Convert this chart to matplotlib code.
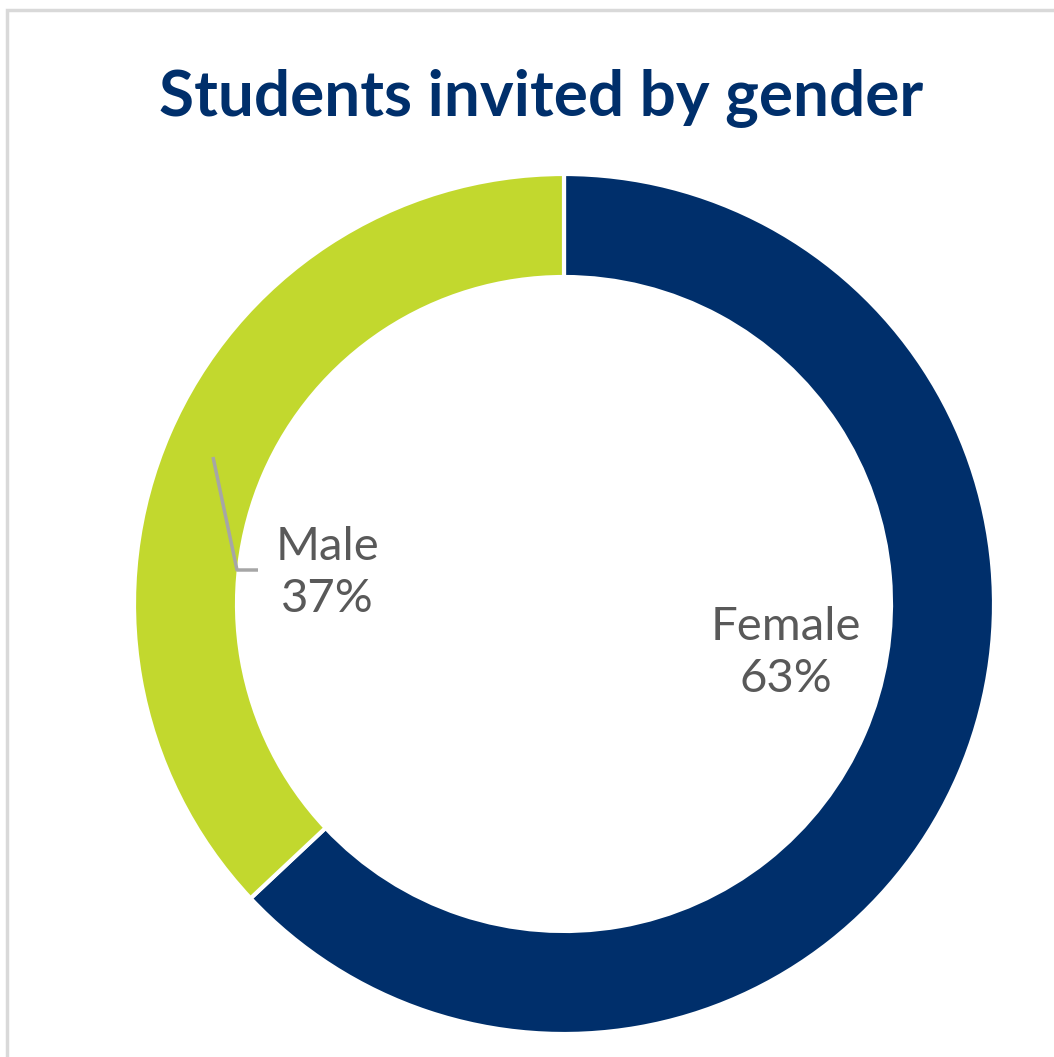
import matplotlib
matplotlib.use("Agg")
import matplotlib.pyplot as plt
from matplotlib.patches import Rectangle

# data
labels = ["Female", "Male"]
shares = [63, 37]
colors = ["#002F6B", "#C2D82E"]
title = "Students invited by gender"

W, H = 1054, 1057
fig = plt.figure(figsize=(W / 100, H / 100), dpi=100)
ax = fig.add_axes([0, 0, 1, 1])
ax.set_xlim(0, W)
ax.set_ylim(0, H)
ax.set_aspect("equal")
ax.axis("off")

# light frame around the chart area
ax.add_patch(Rectangle((7, -20), W + 40, H - 10 + 20, fill=False,
                       edgecolor="#D9D9D9", linewidth=2.5))

cx, cy, r = 564, H - 604, 430
ax.pie(shares, colors=colors, startangle=90, counterclock=False,
       center=(cx, cy), radius=r,
       wedgeprops=dict(width=103, edgecolor="white", linewidth=3))
ax.set_xlim(0, W)
ax.set_ylim(0, H)

ax.text(541, H - 98, title, ha="center", va="center", fontsize=46,
        fontweight="bold", color="#002F6B", family="Lato")

lab_col = "#595959"
ax.text(327, H - 573, "Male\n37%", ha="center", va="center", fontsize=34,
        color=lab_col, family="Lato", linespacing=1.3)
ax.text(786, H - 653, "Female\n63%", ha="center", va="center", fontsize=34,
        color=lab_col, family="Lato", linespacing=1.3)

# leader line for the male label
ax.plot([213, 237, 258], [H - 457, H - 570, H - 570], color="#A6A6A6",
        linewidth=2.5, solid_capstyle="butt")

fig.savefig("out.png", dpi=100)
